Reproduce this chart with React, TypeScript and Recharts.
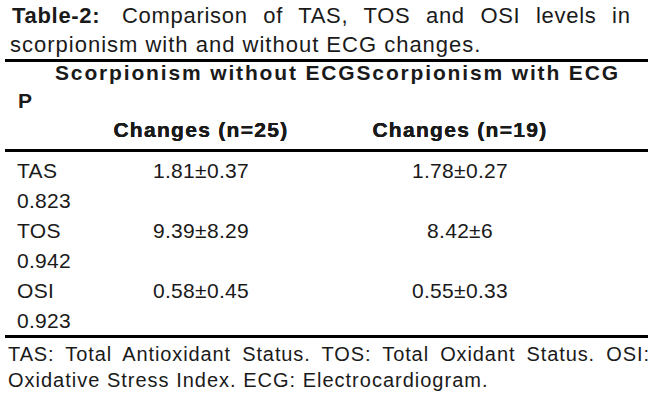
import { ScatterChart, Scatter, XAxis, YAxis } from "recharts";

const markers = ["TAS", "TOS", "OSI"];
const pValues = [0.823, 0.942, 0.923];
const noEcgMean = [1.81, 9.39, 0.58];
const noEcgSd = [0.37, 8.29, 0.45];
const ecgMean = [1.78, 8.42, 0.55];
const ecgSd = [0.27, 6, 0.33];
const groups = ["Changes (n=25)", "Changes (n=19)"];

const FONT = '"Liberation Sans", Arial, sans-serif';
const INK = "#1a1a1a";

const cells = markers.flatMap((m, i) => [
  { group: groups[0], marker: m, text: `${noEcgMean[i]}±${noEcgSd[i]}` },
  { group: groups[1], marker: m, text: `${ecgMean[i]}±${ecgSd[i]}` },
]);

// row label + p value (the P column wraps under the label)
const RowTick = ({ y, payload }: any) => {
  const i = markers.indexOf(payload.value);
  return (
    <g fontFamily={FONT} fontSize={21} fill={INK} letterSpacing={0.3}>
      <text x={17} y={y + 7.5}>{payload.value}</text>
      <text x={17} y={y + 37.5}>{pValues[i]}</text>
    </g>
  );
};

const ColTick = ({ x, payload }: any) => (
  <text x={x} y={137} textAnchor="middle" fontFamily={FONT} fontSize={21}
    fontWeight="bold" letterSpacing={1.3} fill={INK}>
    {payload.value}
  </text>
);

const Cell = ({ cx, cy, payload }: any) => (
  <text x={cx} y={cy + 7.5} textAnchor="middle" fontFamily={FONT} fontSize={21}
    letterSpacing={0.3} fill={INK}>
    {payload.text}
  </text>
);

export default function App() {
  return (
    <div style={{ position: "absolute", left: 0, top: 0, background: "#fff" }}>
      <ScatterChart width={650} height={400} margin={{ top: 169, right: 190, bottom: 110, left: 200 }}>
        {/* title */}
        <text x={12} y={23} fontFamily={FONT} fontSize={22} letterSpacing={0.7} fill={INK}>
          <tspan fontWeight="bold">Table-2:</tspan>
          <tspan x={122} style={{ wordSpacing: 8.8 }}>Comparison of TAS, TOS and OSI levels in</tspan>
        </text>
        <text x={10} y={52} fontFamily={FONT} fontSize={22} letterSpacing={1.0} fill={INK}>
          scorpionism with and without ECG changes.
        </text>
        <line x1={5} x2={648} y1={60.5} y2={60.5} stroke="#000" strokeWidth={3} />
        <text x={55} y={80} fontFamily={FONT} fontSize={21} fontWeight="bold" fill={INK}
          textLength={563} lengthAdjust="spacing">
          Scorpionism without ECGScorpionism with ECG
        </text>
        <text x={18} y={108} fontFamily={FONT} fontSize={21} fontWeight="bold" fill={INK}>P</text>
        <line x1={5} x2={648} y1={150.5} y2={150.5} stroke="#000" strokeWidth={3} />
        <line x1={5} x2={648} y1={336.5} y2={336.5} stroke="#000" strokeWidth={3} />
        {/* footnote */}
        <text x={8} y={361} fontFamily={FONT} fontSize={20} letterSpacing={0.9} fill={INK}
          style={{ wordSpacing: 4.7 }}>
          TAS: Total Antioxidant Status. TOS: Total Oxidant Status. OSI:
        </text>
        <text x={8} y={387} fontFamily={FONT} fontSize={20} letterSpacing={1.0} fill={INK}>
          Oxidative Stress Index. ECG: Electrocardiogram.
        </text>

        <XAxis xAxisId="c" dataKey="group" type="category" scale="point" orientation="top"
          allowDuplicatedCategory={false} height={1} axisLine={false} tickLine={false}
          tick={<ColTick />} interval={0} />
        <YAxis yAxisId="r" dataKey="marker" type="category" scale="point" reversed
          allowDuplicatedCategory={false} width={1} axisLine={false} tickLine={false}
          tick={<RowTick />} interval={0} />
        <Scatter xAxisId="c" yAxisId="r" data={cells} shape={<Cell />} isAnimationActive={false} />
      </ScatterChart>
    </div>
  );
}
